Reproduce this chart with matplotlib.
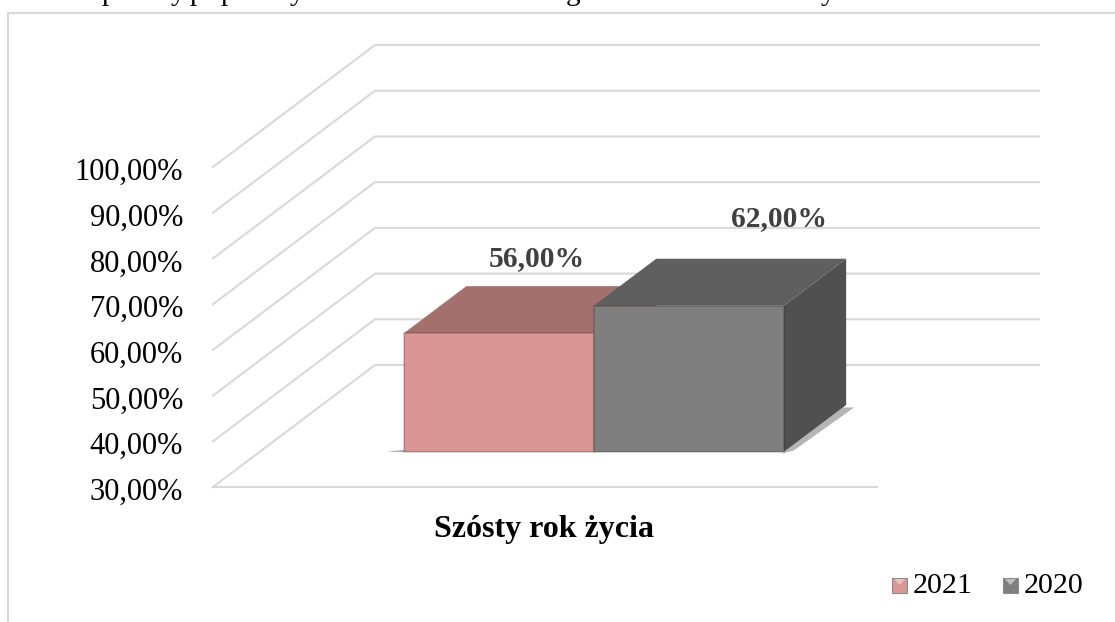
import matplotlib
matplotlib.use('Agg')
import matplotlib.pyplot as plt
from matplotlib.patches import Polygon, Rectangle
from matplotlib.transforms import ScaledTranslation

plt.rcParams['font.family'] = ['Liberation Serif', 'DejaVu Serif']

W, H = 1115, 622

series = ['2021', '2020']
values = [56.00, 62.00]
value_labels = ['56,00%', '62,00%']
category = 'Szósty rok życia'
ticks = [30, 40, 50, 60, 70, 80, 90, 100]
tick_labels = ['30,00%', '40,00%', '50,00%', '60,00%', '70,00%', '80,00%', '90,00%', '100,00%']
front_colors = ['#d99694', '#7f7f7f']
top_colors = ['#a3706e', '#5f5f5f']
side_colors = ['#8a5f5d', '#505050']
# only the descenders of the line above the chart survive in the picture
cut_letters = ['p', 'y', 'p', 'p', 'y', 'g', 'y']
cut_x = [109, 178, 197, 228, 297, 573, 828]

# oblique "3d" look: depth shifts a point right and up
DX = 162 / 664
DV = 122 / (320 / 70)
bar_w = 0.286
gap = 0.2176
d0, d1 = 0.287, 0.672
label_shift = [(38, 67), (90, 80)]  # pixels from top of front face
legend_x = [892, 1003]


def pt(x, v, d):
    return (x + d * DX, v + d * DV)


fig = plt.figure(figsize=(W / 100, H / 100), dpi=100)
ax = fig.add_axes([213 / W, 1 - 487 / H, 664 / W, 320 / H])
ax.set_xlim(0, 1)
ax.set_ylim(30, 100)
for s in ax.spines.values():
    s.set_visible(False)
ax.set_xticks([])
ax.set_yticks(ticks)
ax.set_yticklabels(tick_labels, fontsize=22, color='black')
ax.tick_params(axis='y', length=0, pad=21.5)
ax.patch.set_visible(False)
down = ScaledTranslation(0, -2 / 100, fig.dpi_scale_trans)
for lab in ax.get_yticklabels():
    lab.set_transform(lab.get_transform() + down)

grid = '#d9d9d9'
for v in ticks:
    x0, y0 = pt(0, v, 1)
    x1, y1 = pt(1, v, 1)
    ax.plot([0, x0, x1], [v, y0, y1], color=grid, lw=1.5, clip_on=False, zorder=1)
ax.plot([0, 1], [30, 30], color=grid, lw=1.5, clip_on=False, zorder=1)

# soft shadow on the floor, left of the front and right of the side
x_end = gap + 2 * bar_w
ax.add_patch(Polygon([pt(gap - 0.026, 30, d0), pt(gap + 0.02, 30, d0), pt(gap + 0.02, 30, d0 + 0.04)], closed=True,
                     fc='#8c8c8c', ec='none', alpha=0.7, clip_on=False, zorder=2))
ax.add_patch(Polygon([pt(x_end, 30, d0 - 0.012), pt(x_end + 0.012, 30, d0 + 0.01), pt(x_end + 0.017, 30, d1 - 0.02),
                      pt(x_end, 30, d1 - 0.02)], closed=True, fc='#b5b5b5', ec='none', clip_on=False, zorder=2))

for i, v in enumerate(values):
    x0 = gap + i * bar_w
    x1 = x0 + bar_w
    ax.add_patch(Polygon([pt(x1, 30, d0), pt(x1, 30, d1), pt(x1, v, d1), pt(x1, v, d0)], closed=True,
                         fc=side_colors[i], ec='none', clip_on=False, zorder=3 + i))
    ax.add_patch(Polygon([pt(x0, v, d0), pt(x1, v, d0), pt(x1, v, d1), pt(x0, v, d1)], closed=True,
                         fc=top_colors[i], ec='none', clip_on=False, zorder=3 + i))
    ax.add_patch(Polygon([pt(x0, 30, d0), pt(x1, 30, d0), pt(x1, v, d0), pt(x0, v, d0)], closed=True,
                         fc=front_colors[i], ec='#00000028', lw=1.5, clip_on=False, zorder=3 + i))
    ax.annotate(value_labels[i], xy=pt(x0 + bar_w / 2, v, d0), xytext=(label_shift[i][0] * 0.72, label_shift[i][1] * 0.72),
                textcoords='offset points', ha='center', va='baseline', fontsize=21.3, fontweight='bold',
                color='#404040', zorder=8, annotation_clip=False)

ax.text(0.498, 30 - 10.9, category, ha='center', va='baseline', fontsize=23, fontweight='bold', color='black',
        clip_on=False)

# chart frame, open at the right and bottom
fig.add_artist(plt.Line2D([7.5 / W, 7.5 / W, 1], [0, 1 - 12.5 / H, 1 - 12.5 / H], color=grid, lw=1.5))
for ch, x in zip(cut_letters, cut_x):
    fig.text(x / W, 1 + 0.5 / H, ch, ha='center', va='baseline', fontsize=21, color='black')

# legend
for i, s in enumerate(series):
    x = legend_x[i]
    fig.add_artist(Rectangle((x / W, 1 - 593 / H), 15 / W, 15 / H, transform=fig.transFigure, fc=front_colors[i],
                             ec='#8c8c8c', lw=0.8))
    fig.add_artist(Polygon([((x + 2) / W, 1 - 579 / H), ((x + 13) / W, 1 - 579 / H), ((x + 7.5) / W, 1 - 585 / H)],
                           closed=True, transform=fig.transFigure, fc='#e8e8e8', ec='none', alpha=0.6))
    fig.text((x + 21) / W, 1 - 593 / H, s, ha='left', va='baseline', fontsize=21.6, color='black')

fig.savefig('out.png', dpi=100)
